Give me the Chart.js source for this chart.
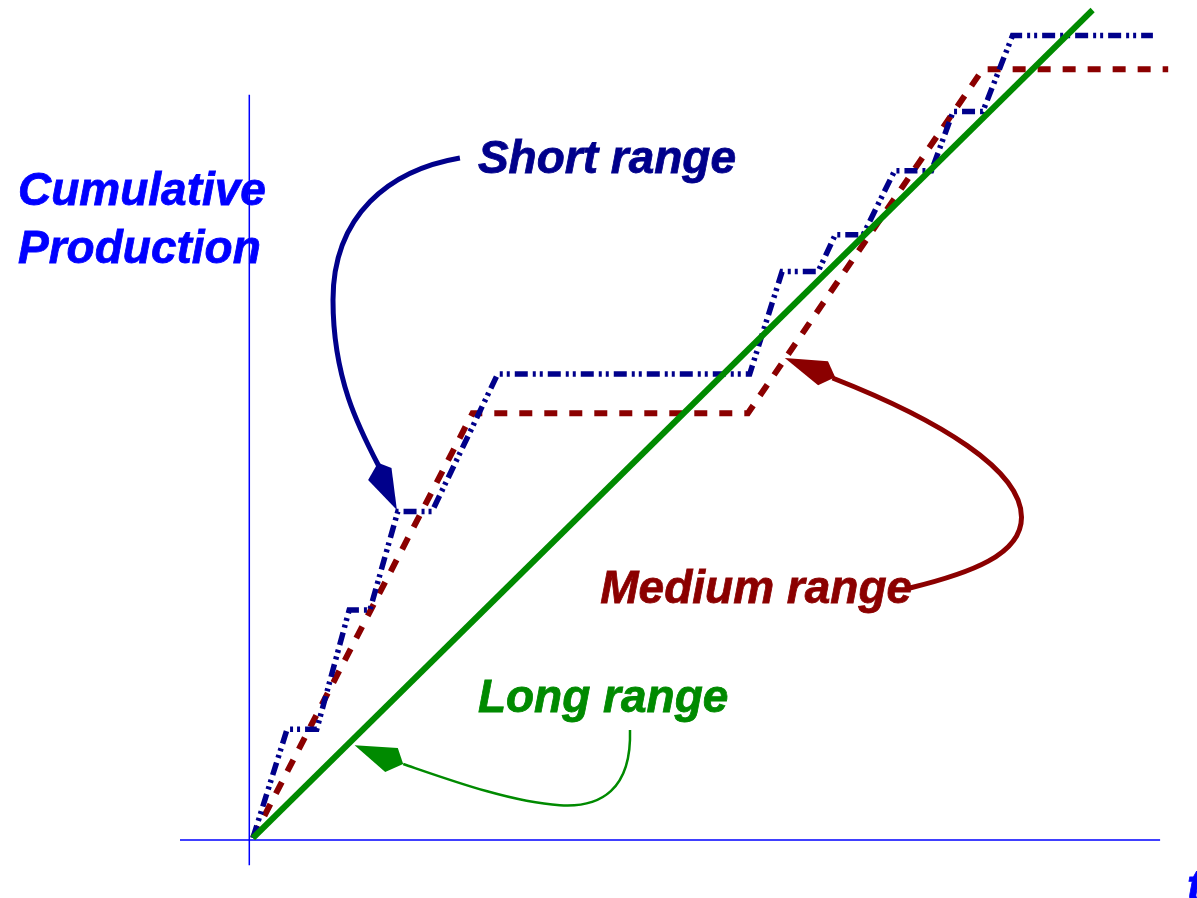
<!DOCTYPE html>
<html>
<head>
<meta charset="utf-8">
<script src="https://cdn.jsdelivr.net/npm/chart.js@4/dist/chart.umd.min.js"></script>
<style>
  html, body { margin: 0; padding: 0; background: #fff; overflow: hidden; }
  canvas { display: block; }
</style>
</head>
<body>
<canvas id="chart" width="1197" height="898"></canvas>
<script>
(function () {
    'use strict';

    // Short range plan: staircase (time, cumulative production)
    var shortT = [0, 3.8, 7.1, 10.7, 13.0, 16.1, 19.9, 27.2, 55.2, 58.8, 62.8, 64.7, 67.8, 71.3, 75.4, 77.8, 81.1, 84.4, 100.0];
    var shortP = [0, 13.6, 13.6, 28.5, 28.5, 40.8, 40.8, 58.0, 58.0, 70.8, 70.8, 75.4, 75.4, 83.4, 83.4, 90.8, 90.8, 100.3, 100.3];

    // Medium range plan
    var mediumT = [0, 24.4, 55.0, 81.1, 101.7];
    var mediumP = [0, 53.1, 53.1, 96.1, 96.1];

    // Long range plan
    var longT = [0, 93.3];
    var longP = [0, 103.5];

    // Axis extents (data units)
    var axisT = [-8.1, 100.8];
    var axisP = [-3.4, 92.9];
    var axisOrigin = { t: -0.4, p: -0.25 };

    function toPoints(xs, ys) {
        return xs.map(function (x, i) { return { x: x, y: ys[i] }; });
    }

    var NAVY = '#00008b';
    var DARKRED = '#8b0000';
    var GREEN = '#008a00';
    var BLUE = '#0000ff';

    // Annotation curves (data units): start, then [c1, c2, end] per cubic segment
    var arrows = [
        {
            color: NAVY, width: 5,
            start: [23.0, 85.0],
            segs: [
                [[15.2, 83.5], [8.9, 77.9], [8.9, 67.25]],
                [[8.9, 57.25], [11.9, 51.0], [14.1, 46.25]]
            ],
            head: [[12.8, 44.75], [13.9, 46.9], [15.4, 46.25], [16.0, 41.0]]
        },
        {
            color: DARKRED, width: 5,
            start: [73.0, 31.25],
            segs: [
                [[79.7, 33.1], [85.4, 35.4], [85.4, 40.1]],
                [[85.4, 46.0], [76.3, 52.25], [64.4, 57.5]]
            ],
            head: [[59.1, 60.0], [63.9, 59.6], [64.7, 57.6], [62.8, 56.6]]
        },
        {
            color: GREEN, width: 2.5,
            start: [41.9, 13.5],
            segs: [
                [[42.1, 6.0], [38.6, 3.75], [34.1, 4.1]],
                [[28.6, 4.5], [21.9, 7.25], [16.7, 9.25]]
            ],
            head: [[11.3, 11.6], [16.1, 11.25], [16.7, 9.25], [14.7, 8.25]]
        }
    ];

    var labels = [
        { text: 'Cumulative', t: -26.1, p: 79.1, color: BLUE },
        { text: 'Production', t: -26.1, p: 71.9, color: BLUE },
        { text: 'Short range', t: 25.0, p: 83.1, color: NAVY },
        { text: 'Medium range', t: 38.6, p: 29.4, color: DARKRED },
        { text: 'Long range', t: 25.0, p: 15.75, color: GREEN },
        { text: 't', t: 103.8, p: -8.0, color: BLUE }
    ];

    var annotations = {
        id: 'annotations',
        afterDatasetsDraw: function (chart) {
            var ctx = chart.ctx;
            var xs = chart.scales.x, ys = chart.scales.y;
            function px(v) { return xs.getPixelForValue(v); }
            function py(v) { return ys.getPixelForValue(v); }

            ctx.save();
            arrows.forEach(function (a) {
                ctx.strokeStyle = a.color;
                ctx.fillStyle = a.color;
                ctx.lineWidth = a.width;
                ctx.lineCap = 'butt';
                ctx.beginPath();
                ctx.moveTo(px(a.start[0]), py(a.start[1]));
                a.segs.forEach(function (s) {
                    ctx.bezierCurveTo(px(s[0][0]), py(s[0][1]), px(s[1][0]), py(s[1][1]), px(s[2][0]), py(s[2][1]));
                });
                ctx.stroke();

                ctx.beginPath();
                a.head.forEach(function (h, i) {
                    if (i === 0) ctx.moveTo(px(h[0]), py(h[1]));
                    else ctx.lineTo(px(h[0]), py(h[1]));
                });
                ctx.closePath();
                ctx.fill();
            });

            ctx.font = 'italic bold 46px "Liberation Sans", Arial, sans-serif';
            ctx.textBaseline = 'alphabetic';
            ctx.textAlign = 'left';
            ctx.lineWidth = 0.8;
            labels.forEach(function (l) {
                ctx.fillStyle = l.color;
                ctx.strokeStyle = l.color;
                ctx.fillText(l.text, px(l.t), py(l.p));
                ctx.strokeText(l.text, px(l.t), py(l.p));
            });
            ctx.restore();
        }
    };

    var canvas = document.getElementById('chart');

    new Chart(canvas, {
        type: 'line',
        data: {
            datasets: [
                {
                    label: 'Long range',
                    data: toPoints(longT, longP),
                    borderColor: GREEN,
                    borderWidth: 6,
                    order: 0
                },
                {
                    label: 'Short range',
                    data: toPoints(shortT, shortP),
                    borderColor: NAVY,
                    borderWidth: 5.5,
                    borderDash: [13, 5, 3, 4, 3, 5],
                    order: 1
                },
                {
                    label: 'Medium range',
                    data: toPoints(mediumT, mediumP),
                    borderColor: DARKRED,
                    borderWidth: 6,
                    borderDash: [13, 12],
                    order: 2
                },
                {
                    label: 'x axis',
                    data: [{ x: axisT[0], y: axisOrigin.p }, { x: axisT[1], y: axisOrigin.p }],
                    borderColor: BLUE,
                    borderWidth: 1.5,
                    order: 10
                },
                {
                    label: 'y axis',
                    data: [{ x: axisOrigin.t, y: axisP[0] }, { x: axisOrigin.t, y: axisP[1] }],
                    borderColor: BLUE,
                    borderWidth: 1.5,
                    order: 10
                }
            ]
        },
        options: {
            responsive: false,
            animation: false,
            layout: { padding: 0 },
            elements: {
                point: { radius: 0, hoverRadius: 0 },
                line: { tension: 0, fill: false, borderCapStyle: 'butt', borderJoinStyle: 'miter' }
            },
            plugins: {
                legend: { display: false },
                tooltip: { enabled: false }
            },
            scales: {
                x: { type: 'linear', min: -28.1, max: 104.9, display: false },
                y: { type: 'linear', min: -7.5, max: 104.75, display: false }
            }
        },
        plugins: [annotations]
    });
})();
</script>
</body>
</html>
